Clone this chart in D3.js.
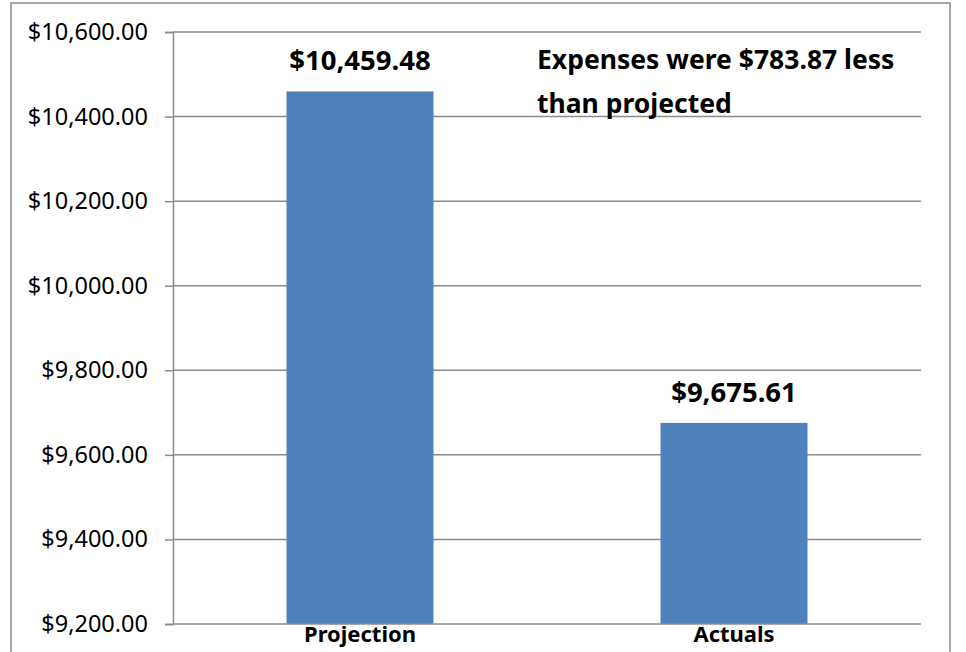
<!DOCTYPE html>
<html>
<head>
<meta charset="utf-8">
<script src="https://cdn.jsdelivr.net/npm/d3@7"></script>
<style>
  html, body { margin: 0; padding: 0; background: #fff; }
  svg { display: block; }
  text { font-family: "Noto Sans", "Liberation Sans", sans-serif; fill: #000; }
</style>
</head>
<body>
<svg id="chart" width="966" height="652"></svg>
<script>
const categories = ["Projection", "Actuals"];
const values = [10459.48, 9675.61];
const valueLabels = ["$10,459.48", "$9,675.61"];
const yTicks = [9200, 9400, 9600, 9800, 10000, 10200, 10400, 10600];
const annotationLines = ["Expenses were $783.87 less", "than projected"];

const svg = d3.select("#chart");
const plot = { left: 173, right: 921, top: 32, bottom: 624 };

// outer chart border
svg.append("rect")
  .attr("x", 11).attr("y", 3)
  .attr("width", 939).attr("height", 670)
  .attr("fill", "#fff")
  .attr("stroke", "#8a8a8a").attr("stroke-width", 1.5);

const y = d3.scaleLinear().domain([9200, 10600]).range([plot.bottom, plot.top]);
const x = d3.scaleBand().domain(categories)
  .range([plot.left, plot.right])
  .paddingInner(0.607).paddingOuter(0.3035);

const fmt = d3.format("$,.2f");

// gridlines
svg.append("g").selectAll("line").data(yTicks.filter(d => d !== 9200)).join("line")
  .attr("x1", plot.left).attr("x2", plot.right)
  .attr("y1", d => y(d)).attr("y2", d => y(d))
  .attr("stroke", "#8c8c8c").attr("stroke-width", 1.5);

// bars
svg.append("g").selectAll("rect").data(categories).join("rect")
  .attr("x", d => x(d))
  .attr("width", x.bandwidth())
  .attr("y", (d, i) => y(values[i]))
  .attr("height", (d, i) => y(9200) - y(values[i]))
  .attr("fill", "#4F81BD");

// y axis
const yAxis = d3.axisLeft(y).tickValues(yTicks).tickFormat(fmt).tickSize(8).tickPadding(17);
const gy = svg.append("g").attr("transform", `translate(${plot.left},0)`).call(yAxis);
gy.select(".domain").attr("stroke", "#8c8c8c").attr("stroke-width", 1.5);
gy.selectAll(".tick line").attr("stroke", "#8c8c8c").attr("stroke-width", 1.5);
gy.selectAll(".tick text")
  .style("font-family", "'Noto Sans', 'Liberation Sans', sans-serif")
  .style("font-size", "23.5px").attr("fill", "#000");

// x axis
const xAxis = d3.axisBottom(x).tickSize(0).tickPadding(0);
const gx = svg.append("g").attr("transform", `translate(0,${plot.bottom})`).call(xAxis);
gx.select(".domain").attr("stroke", "#8c8c8c").attr("stroke-width", 1.5)
  .attr("d", `M${plot.left},0H${plot.right}`);
gx.selectAll(".tick text")
  .style("font-family", "'Noto Sans', 'Liberation Sans', sans-serif")
  .style("font-size", "22px").style("font-weight", "bold").attr("fill", "#000")
  .attr("y", 18).attr("dy", "0");

// value labels
svg.append("g").selectAll("text").data(categories).join("text")
  .attr("x", d => x(d) + x.bandwidth() / 2)
  .attr("y", (d, i) => y(values[i]) - 21)
  .attr("text-anchor", "middle")
  .style("font-size", "27.5px").style("font-weight", "bold")
  .text((d, i) => valueLabels[i]);

// annotation
svg.append("g").selectAll("text").data(annotationLines).join("text")
  .attr("x", 537)
  .attr("y", (d, i) => 69 + i * 44)
  .style("font-size", "26.5px").style("font-weight", "bold")
  .text(d => d);
</script>
</body>
</html>
